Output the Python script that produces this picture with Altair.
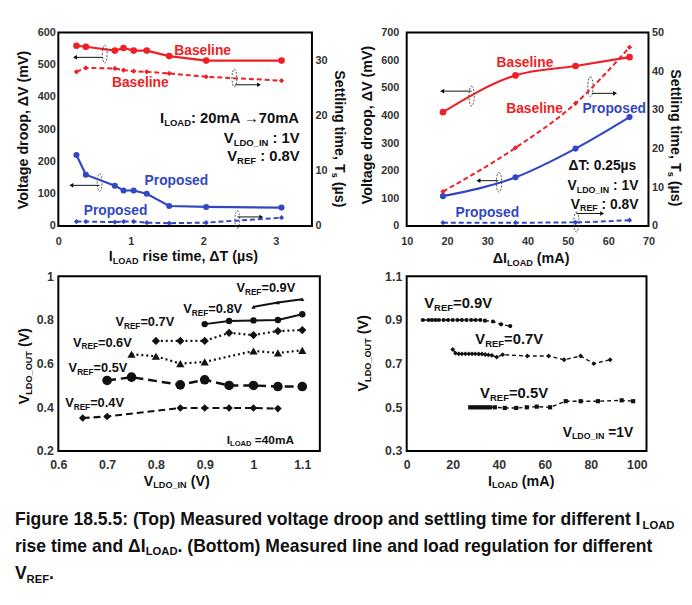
import altair as alt
import pandas as pd

FONT = "Liberation Sans"
RED = "#ee1f26"
BLUE = "#3347c2"
BLACK = "#111111"

# ---------------- data ----------------
# Top-left: versus I_LOAD rise time (us)
tl_rise_time = [0.25, 0.38, 0.78, 0.90, 1.04, 1.22, 1.53, 2.04, 3.08]
tl_baseline_droop = [559, 556, 544, 552, 544, 544, 527, 513, 513]
tl_proposed_droop = [220, 159, 125, 110, 110, 100, 62, 59, 57]
tl_baseline_settle = [27.9, 28.6, 28.5, 28.2, 28.0, 27.9, 27.6, 27.0, 26.3]
tl_proposed_settle = [0.8, 0.8, 0.7, 0.8, 0.8, 0.6, 0.5, 0.6, 1.5]

# Top-right: versus delta I_LOAD (mA)
tr_delta_iload = [19.0, 37.0, 51.9, 65.3]
tr_baseline_droop = [412, 545, 579, 611]
tr_proposed_droop = [108, 176, 280, 394]
tr_baseline_settle = [8.9, 20.2, 31.7, 46.2]
tr_proposed_settle = [0.85, 0.85, 0.95, 1.5]

# Bottom-left: line regulation, V_LDO_OUT vs V_LDO_IN
bl_vin_09 = [1.00, 1.05, 1.10]
bl_vout_09 = [0.860, 0.880, 0.895]
bl_vin_08 = [0.90, 0.95, 1.00, 1.05, 1.10]
bl_vout_08 = [0.781, 0.795, 0.798, 0.800, 0.826]
bl_vin_07 = [0.80, 0.85, 0.90, 0.95, 1.00, 1.05, 1.10]
bl_vout_07 = [0.704, 0.704, 0.704, 0.741, 0.731, 0.749, 0.754]
bl_vin_06 = [0.75, 0.80, 0.85, 0.90, 1.00, 1.05, 1.10]
bl_vout_06 = [0.643, 0.634, 0.600, 0.608, 0.658, 0.649, 0.661]
bl_vin_05 = [0.70, 0.75, 0.85, 0.90, 0.95, 1.00, 1.05, 1.10]
bl_vout_05 = [0.523, 0.538, 0.503, 0.526, 0.500, 0.500, 0.495, 0.495]
bl_vin_04 = [0.65, 0.70, 0.85, 0.90, 0.95, 1.00, 1.05]
bl_vout_04 = [0.351, 0.358, 0.397, 0.397, 0.397, 0.397, 0.394]

# Bottom-right: load regulation, V_LDO_OUT vs I_LOAD
br_iload_09 = [7, 9.5, 11, 12.5, 14, 16, 18, 20, 22, 24, 26, 28, 30, 32, 34, 37.5, 41, 45]
br_vout_09 = [0.900, 0.900, 0.900, 0.900, 0.900, 0.900, 0.900, 0.900, 0.900, 0.900,
              0.900, 0.900, 0.900, 0.900, 0.897, 0.893, 0.880, 0.872]
br_iload_07 = [20.0, 21.2, 22.6, 24.0, 25.5, 27.0, 28.4, 29.8, 31.3, 32.7, 34.1, 35.5,
               37.0, 39.1, 41.7, 52.4, 61.7, 68.4, 75.6, 81.3, 88.4]
br_vout_07 = [0.765, 0.748, 0.745, 0.745, 0.745, 0.745, 0.745, 0.745, 0.744, 0.744, 0.742,
              0.740, 0.738, 0.730, 0.741, 0.735, 0.735, 0.718, 0.735, 0.700, 0.718]
br_iload_05 = [27.6, 29.0, 30.4, 31.9, 33.3, 34.7, 36.2, 38.3, 42.6, 47.6, 52.2, 56.5,
               62.3, 69.1, 75.6, 83.1, 93.4, 98.4]
br_vout_05 = [0.500, 0.500, 0.500, 0.500, 0.500, 0.500, 0.500, 0.500, 0.497, 0.497, 0.500,
              0.503, 0.500, 0.528, 0.528, 0.528, 0.532, 0.528]

# Dotted "which axis" ellipses and arrows (data units of the left axis)
tl_ellipse_x = [0.64, 2.43, 0.57, 2.47]
tl_ellipse_y = [533, 459, 135, 20]
tl_arrow_from = [0.61, 2.44, 0.57, 2.47]
tl_arrow_to = [0.23, 2.77, 0.18, 2.80]
tl_arrow_y = [523, 438, 126, 28]

tr_ellipse_x = [26.1, 55.6, 32.9, 52.1]
tr_ellipse_y = [470, 504, 158, 14]
tr_arrow_from = [26.1, 56.0, 32.7, 52.1]
tr_arrow_to = [18.8, 61.7, 27.8, 58.5]
tr_arrow_y = [488, 480, 164, 45]

# ---------------- helpers ----------------
# Arial/Liberation Sans Bold advance widths (1/1000 em)
AW = {' ': 278, ',': 278, '.': 278, ':': 333, '(': 333, ')': 333, '=': 584, '_': 556,
      '-': 333, '\u2192': 1000, '\u0394': 722, '\u00b5': 611}
for ch in "0123456789":
    AW[ch] = 556
AW.update(dict(zip("ABCDEFGHIJKLMNOPQRSTUVWXYZ",
                   [722, 722, 722, 722, 667, 611, 778, 722, 278, 556, 722, 611, 833, 722,
                    778, 667, 778, 722, 667, 611, 722, 667, 944, 667, 667, 611])))
AW.update(dict(zip("abcdefghijklmnopqrstuvwxyz",
                   [556, 611, 556, 611, 556, 333, 611, 611, 278, 278, 556, 278, 889, 611,
                    611, 611, 611, 389, 556, 333, 611, 556, 778, 556, 556, 500])))


def text_width(s, size):
    return sum(AW.get(c, 556) for c in s) * size / 1000.0


DUMMY = pd.DataFrame({"d": [0]})


def _rich(segs, size, align, angle, color, data, enc, sub_ratio=0.64):
    sub = round(size * sub_ratio, 2)
    parts = []
    for item in segs:
        t, s = (item, False) if isinstance(item, str) else (item[0], True)
        fs = sub if s else size
        parts.append((t, s, fs, text_width(t, fs)))
    total = sum(p[3] for p in parts)
    pos = {"left": 0.0, "center": -total / 2.0, "right": -total}[align]
    layers = []
    for t, s, fs, w in parts:
        lead = len(t) - len(t.lstrip(" "))
        shown = t.strip(" ")
        start = pos + text_width(" " * lead, fs)
        pos += w
        if not shown:
            continue
        kw = dict(text=shown, align="left", baseline="alphabetic", font=FONT, fontSize=fs,
                  fontWeight="bold", color=color, dx=round(start, 2))
        if s:
            kw["dy"] = round(size * 0.2, 2)
        if angle:
            kw["angle"] = angle
        layers.append(alt.Chart(data).mark_text(**kw).encode(**enc))
    return layers


def rich_px(segs, size, ax_, ay_, align="left", angle=0, color=BLACK):
    return _rich(segs, size, align, angle, color, DUMMY,
                 dict(x=alt.value(ax_), y=alt.value(ay_)))


def rich_data(segs, size, x, y, P, align="left", color=BLACK):
    df = pd.DataFrame({"x": [x], "y": [y]})
    enc = dict(x=alt.X("x:Q", scale=P["xs"], axis=P["xa"]),
               y=alt.Y("y:Q", scale=P["ys"], axis=P["ya"]))
    return _rich(segs, size, align, 0, color, df, enc)


def frame(xv, yv):
    return pd.DataFrame({"x": xv, "y": yv})


def series(df, P, color, dash=None, width=2.0, shape="circle", size=40, interp="linear"):
    lk = dict(color=color, strokeWidth=width, interpolate=interp)
    if dash:
        lk["strokeDash"] = dash
    enc = dict(x=alt.X("x:Q", scale=P["xs"], axis=P["xa"]),
               y=alt.Y("y:Q", scale=P["ys"], axis=P["ya"]))
    line = alt.Chart(df).mark_line(**lk).encode(**enc)
    pts = alt.Chart(df).mark_point(shape=shape, filled=True, size=size, color=color,
                                   opacity=1).encode(**enc)
    return [line, pts]


ELLIPSE = "M0,-1A0.27,1,0,1,1,0,1A0.27,1,0,1,1,0,-1Z"


def ellipses(xv, yv, P, size):
    df = pd.DataFrame({"x": xv, "y": yv})
    return [alt.Chart(df).mark_point(shape=ELLIPSE, size=size, filled=False, stroke="#555555",
                                     strokeWidth=1, strokeDash=[2, 1.5], opacity=1).encode(
        x=alt.X("x:Q", scale=P["xs"], axis=P["xa"]), y=alt.Y("y:Q", scale=P["ys"], axis=P["ya"]))]


def arrows(x_from, x_to, yv, P):
    df = pd.DataFrame({"x": x_from, "x2": x_to, "y": yv,
                       "head": ["triangle-left" if b < a else "triangle-right"
                                for a, b in zip(x_from, x_to)]})
    rule = alt.Chart(df).mark_rule(color="#111111", strokeWidth=1).encode(
        x=alt.X("x:Q", scale=P["xs"], axis=P["xa"]), x2="x2:Q",
        y=alt.Y("y:Q", scale=P["ys"], axis=P["ya"]))
    head = alt.Chart(df).mark_point(filled=True, size=22, color="#111111", opacity=1).encode(
        x=alt.X("x2:Q", scale=P["xs"], axis=P["xa"]), y=alt.Y("y:Q", scale=P["ys"], axis=P["ya"]),
        shape=alt.Shape("head:N", scale=None))
    return [rule, head]


def ax(values, orient, pad, size, expr=None):
    kw = dict(values=values, orient=orient, title=None, domain=False, ticks=False, grid=False,
              labelFont=FONT, labelFontSize=size, labelFontWeight="bold", labelColor="#333333",
              labelPadding=pad, labelFlush=False)
    if expr:
        kw["labelExpr"] = expr
    return alt.Axis(**kw)


def sc(lo, hi):
    return alt.Scale(domain=[lo, hi], nice=False, zero=False)


ONE_DEC = "datum.value == 1 ? '1' : format(datum.value, '.1f')"

# ---------------- top-left panel ----------------
tl_xs, tl_xa = sc(0, 3.5), ax([0, 1, 2, 3], "bottom", 10, 11)
TLL = dict(xs=tl_xs, xa=tl_xa, ys=sc(0, 600), ya=ax([0, 100, 200, 300, 400, 500, 600], "left", 3, 11))
TLR = dict(xs=tl_xs, xa=tl_xa, ys=sc(0, 35), ya=ax([0, 10, 20, 30], "right", 3, 11))

tl_left = alt.layer(
    *series(frame(tl_rise_time, tl_baseline_droop), TLL, RED, width=2.2, size=45),
    *series(frame(tl_rise_time, tl_proposed_droop), TLL, BLUE, width=2.2, size=38),
    *ellipses(tl_ellipse_x, tl_ellipse_y, TLL, 324),
    *arrows(tl_arrow_from, tl_arrow_to, tl_arrow_y, TLL),
    *rich_data(["Baseline"], 14, 1.60, 529, TLL, color=RED),
    *rich_data(["Baseline"], 14, 0.74, 432, TLL, color=RED),
    *rich_data(["Proposed"], 14, 1.19, 126, TLL, color=BLUE),
    *rich_data(["Proposed"], 14, 0.35, 34, TLL, color=BLUE),
    *rich_data(["I", ("LOAD",), ": 20mA \u219270mA"], 15, 3.33, 319, TLL, align="right"),
    *rich_data(["V", ("LDO_IN",), " : 1V"], 15, 3.33, 258, TLL, align="right"),
    *rich_data(["V", ("REF",), " : 0.8V"], 15, 3.33, 202, TLL, align="right"),
)
tl_right = alt.layer(
    *series(frame(tl_rise_time, tl_baseline_settle), TLR, RED, dash=[5, 3], width=2,
            shape="diamond", size=28),
    *series(frame(tl_rise_time, tl_proposed_settle), TLR, BLUE, dash=[5, 3], width=2,
            shape="diamond", size=28),
)
anchor = alt.Chart(DUMMY).mark_rule(opacity=0, strokeWidth=0).encode(
    x=alt.value(-50), x2=alt.value(-49), y=alt.value(-20))
tl = alt.layer(
    tl_left, tl_right,
    *rich_px(["Voltage droop, \u0394V (mV)"], 14.5, -31, 98, align="center", angle=270),
    *rich_px(["Settling time, T", ("s",), " (\u00b5s)"], 14.5, 280, 108, align="center", angle=90),
    *rich_px(["I", ("LOAD",), " rise time, \u0394T (\u00b5s)"], 14.5, 127, 232, align="center"),
    anchor,
).resolve_scale(y="independent").properties(width=257, height=196)

# ---------------- top-right panel ----------------
tr_xs, tr_xa = sc(10, 70), ax([10, 20, 30, 40, 50, 60, 70], "bottom", 10, 11)
TRL = dict(xs=tr_xs, xa=tr_xa, ys=sc(0, 700),
           ya=ax([0, 100, 200, 300, 400, 500, 600, 700], "left", 8, 11))
TRR = dict(xs=tr_xs, xa=tr_xa, ys=sc(0, 50), ya=ax([0, 10, 20, 30, 40, 50], "right", 3, 11))

tr_left = alt.layer(
    *series(frame(tr_delta_iload, tr_baseline_droop), TRL, RED, width=2.2, size=45,
            interp="monotone"),
    *series(frame(tr_delta_iload, tr_proposed_droop), TRL, BLUE, width=2.2, size=38,
            interp="monotone"),
    *ellipses(tr_ellipse_x, tr_ellipse_y, TRL, 400),
    *arrows(tr_arrow_from, tr_arrow_to, tr_arrow_y, TRL),
    *rich_data(["Baseline"], 14, 32.3, 575, TRL, color=RED),
    *rich_data(["Baseline"], 14, 34.7, 408, TRL, color=RED),
    *rich_data(["Proposed"], 14, 53.6, 408, TRL, color=BLUE),
    *rich_data(["Proposed"], 14, 22.1, 31, TRL, color=BLUE),
    *rich_data(["\u0394T: 0.25\u00b5s"], 14, 67.5, 202, TRL, align="right"),
    *rich_data(["V", ("LDO_IN",), " : 1V"], 14, 67.5, 131, TRL, align="right"),
    *rich_data(["V", ("REF",), " : 0.8V"], 14, 67.5, 63, TRL, align="right"),
)
tr_right = alt.layer(
    *series(frame(tr_delta_iload, tr_baseline_settle), TRR, RED, dash=[5, 3], width=2,
            shape="diamond", size=28, interp="monotone"),
    *series(frame(tr_delta_iload, tr_proposed_settle), TRR, BLUE, dash=[5, 3], width=2,
            shape="diamond", size=28, interp="monotone"),
)
tr = alt.layer(
    tr_left, tr_right,
    *rich_px(["Voltage droop, \u0394V (mV)"], 14.5, -35, 93, align="center", angle=270),
    *rich_px(["Settling time, T", ("s",), " (\u00b5s)"], 14.5, 268, 107, align="center", angle=90),
    *rich_px(["\u0394I", ("LOAD",), " (mA)"], 14.5, 126, 234, align="center"),
).resolve_scale(y="independent").properties(width=245, height=196)

# ---------------- bottom-left panel ----------------
BL = dict(xs=sc(0.6, 1.136), xa=ax([0.6, 0.7, 0.8, 0.9, 1.0, 1.1], "bottom", 8, 12.5, ONE_DEC),
          ys=sc(0.2, 1.0), ya=ax([0.2, 0.4, 0.6, 0.8, 1.0], "left", 5, 12.5, ONE_DEC))

bl = alt.layer(
    *series(frame(bl_vin_09, bl_vout_09), BL, BLACK, width=2, shape="triangle-up", size=18),
    *series(frame(bl_vin_08, bl_vout_08), BL, BLACK, width=2, shape="circle", size=42),
    *series(frame(bl_vin_07, bl_vout_07), BL, BLACK, dash=[2, 3], width=2.2,
            shape="diamond", size=70),
    *series(frame(bl_vin_06, bl_vout_06), BL, BLACK, dash=[2, 3], width=2.2,
            shape="triangle-up", size=70),
    *series(frame(bl_vin_05, bl_vout_05), BL, BLACK, dash=[9, 5], width=2.5,
            shape="circle", size=95),
    *series(frame(bl_vin_04, bl_vout_04), BL, BLACK, dash=[7, 4], width=2.2,
            shape="diamond", size=60),
    *rich_data(["V", ("REF",), "=0.9V"], 13, 0.965, 0.928, BL),
    *rich_data(["V", ("REF",), "=0.8V"], 13, 0.856, 0.831, BL),
    *rich_data(["V", ("REF",), "=0.7V"], 13, 0.717, 0.772, BL),
    *rich_data(["V", ("REF",), "=0.6V"], 13, 0.630, 0.677, BL),
    *rich_data(["V", ("REF",), "=0.5V"], 13, 0.621, 0.561, BL),
    *rich_data(["V", ("REF",), "=0.4V"], 13, 0.614, 0.400, BL),
    *rich_data(["I", ("LOAD",), " =40mA"], 12, 1.083, 0.234, BL, align="right"),
    *rich_px(["V", ("LDO_IN",), " (V)"], 14.5, 120, 212, align="center"),
    *rich_px(["V", ("LDO_OUT",), " (V)"], 14.5, -30, 91, align="center", angle=270),
    *rich_px(["Figure 18.5.5: (Top) Measured voltage droop and settling time for different I",
              ("LOAD",)], 17.8, -44, 252),
    *rich_px(["rise time and \u0394I", ("LOAD",),
              ". (Bottom) Measured line and load regulation for different"], 17.8, -44, 279),
    *rich_px(["V", ("REF",), "."], 17.8, -44, 307),
).properties(width=265, height=177)

# ---------------- bottom-right panel ----------------
BR = dict(xs=sc(0, 104.2), xa=ax([0, 20, 40, 60, 80, 100], "bottom", 8, 12.5),
          ys=sc(0.3, 1.1), ya=ax([0.3, 0.5, 0.7, 0.9, 1.1], "left", 5, 12.5, ONE_DEC))

br = alt.layer(
    *series(frame(br_iload_09, br_vout_09), BR, BLACK, dash=[4, 3], width=1.4,
            shape="circle", size=18),
    *series(frame(br_iload_07, br_vout_07), BR, BLACK, dash=[4, 3], width=1.4,
            shape="diamond", size=24),
    *series(frame(br_iload_05, br_vout_05), BR, BLACK, dash=[4, 3], width=1.4,
            shape="square", size=18),
    *rich_data(["V", ("REF",), "=0.9V"], 15, 7.6, 0.956, BR),
    *rich_data(["V", ("REF",), "=0.7V"], 15, 29.8, 0.788, BR),
    *rich_data(["V", ("REF",), "=0.5V"], 15, 31.9, 0.544, BR),
    *rich_data(["V", ("LDO_IN",), " =1V"], 14, 98.4, 0.366, BR, align="right"),
    *rich_px(["I", ("LOAD",), " (mA)"], 14.5, 116, 212, align="center"),
    *rich_px(["V", ("LDO_OUT",), " (V)"], 14.5, -39, 78, align="center", angle=270),
).properties(width=243, height=177)

chart = alt.concat(
    tl, tr, bl, br, columns=2, spacing={"row": 51, "column": 88}, align="each", bounds="flush"
).properties(padding=0, background="white").configure_view(stroke="black", strokeWidth=2)

chart.save("out.html", embed_options={"renderer": "svg", "actions": False})
